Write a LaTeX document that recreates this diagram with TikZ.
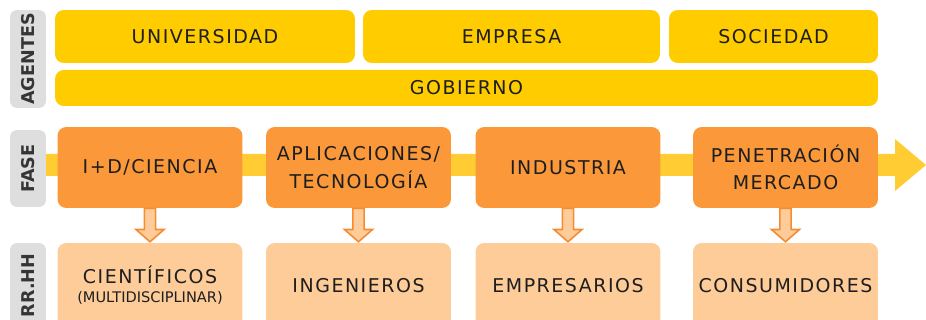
\documentclass[tikz,border=0pt]{standalone}
\usepackage{fontspec}
\setmainfont{DejaVu Sans}
\newfontfamily\espaciada[LetterSpace=8]{DejaVu Sans}
\usetikzlibrary{positioning,calc}
\definecolor{amarillo}{RGB}{255,204,0}
\definecolor{banda}{RGB}{255,204,51}
\definecolor{naranja}{RGB}{250,152,58}
\definecolor{melocoton}{RGB}{253,204,153}
\definecolor{gris}{RGB}{222,222,222}
\definecolor{borde}{RGB}{245,140,50}
\definecolor{texto}{RGB}{30,30,30}

\tikzset{
  caja/.style={rounded corners=5pt, text=texto, align=center,
    font=\espaciada\fontsize{10.8}{15.5}\selectfont, inner sep=0pt},
  agente/.style={caja, fill=amarillo, minimum height=1.06cm},
  gobierno/.style={caja, fill=amarillo, minimum width=16.46cm, minimum height=0.72cm},
  fase/.style={caja, fill=naranja, minimum width=3.7cm, minimum height=1.62cm},
  rrhh/.style={caja, fill=melocoton, minimum width=3.7cm, minimum height=1.7cm},
  etiqueta/.style={rounded corners=4pt, fill=gris, rotate=90, minimum height=0.72cm,
    text=texto!90, font=\bfseries\fontsize{10}{12}\selectfont, inner sep=0pt},
  flecha/.style={draw=borde, fill=melocoton, line width=0.9pt, line join=miter}
}

% flecha hueca de una fase a su recurso humano
\newcommand\bajada[2]{%
  \draw[flecha] let \p1=(#1.south), \p2=(#2.north) in
    (\x1-3.2pt,\y1) -- (\x1-3.2pt,\y2+7.5pt) -- (\x1-8pt,\y2+7.5pt) -- (\x1,\y2+0.5pt)
    -- (\x1+8pt,\y2+7.5pt) -- (\x1+3.2pt,\y2+7.5pt) -- (\x1+3.2pt,\y1) -- cycle;}

\begin{document}
\begin{tikzpicture}[x=0.02cm, y=-0.02cm]
  \useasboundingbox (0,0) rectangle (926,320);

  % filas
  \def\filaA{36.5}
  \def\filaG{88}
  \def\filaF{167.5}
  \def\filaR{285.5}

  % banda amarilla de las fases
  \coordinate (inicio) at (46,165);
  \coordinate (punta) at (926,165);
  \fill[banda] (inicio) ++(0,-11) -- (895,154) -- (895,139) -- (punta)
    -- (895,191) -- (895,176) -- (46,176) -- cycle;

  % etiquetas laterales
  \node[etiqueta, minimum width=1.96cm] (lagentes) at (28,59) {AGENTES};
  \node[etiqueta, minimum width=1.54cm] (lfase) at (28,168.5) {FASE};
  \node[etiqueta, minimum width=1.7cm] (lrrhh) at (28,285.5) {RR.HH};

  % agentes
  \node[agente, minimum width=6cm] (universidad) at (205,\filaA) {UNIVERSIDAD};
  \node[agente, minimum width=5.94cm] (empresa) at (511.5,\filaA) {EMPRESA};
  \node[agente, minimum width=4.18cm] (sociedad) at (773.5,\filaA) {SOCIEDAD};
  \node[gobierno] (gobierno) at (466.5,\filaG) {GOBIERNO};

  % fases
  \node[fase] (ciencia) at (150,\filaF) {I+D/CIENCIA};
  \node[fase] (tecnologia) at (358.5,\filaF) {APLICACIONES/\\TECNOLOGÍA};
  \node[fase] (industria) at (568,\filaF) {INDUSTRIA};
  \node[fase] (mercado) at (785.5,\filaF) {PENETRACIÓN\\MERCADO};

  % recursos humanos
  \node[rrhh] (cientificos) at (150,\filaR) {CIENTÍFICOS\\[-4.5pt]%
    {\normalfont\fontsize{8.3}{9}\selectfont(MULTIDISCIPLINAR)}};
  \node[rrhh] (ingenieros) at (358.5,\filaR) {INGENIEROS};
  \node[rrhh] (empresarios) at (568,\filaR) {EMPRESARIOS};
  \node[rrhh] (consumidores) at (785.5,\filaR) {CONSUMIDORES};

  \bajada{ciencia}{cientificos}
  \bajada{tecnologia}{ingenieros}
  \bajada{industria}{empresarios}
  \bajada{mercado}{consumidores}
\end{tikzpicture}
\end{document}
